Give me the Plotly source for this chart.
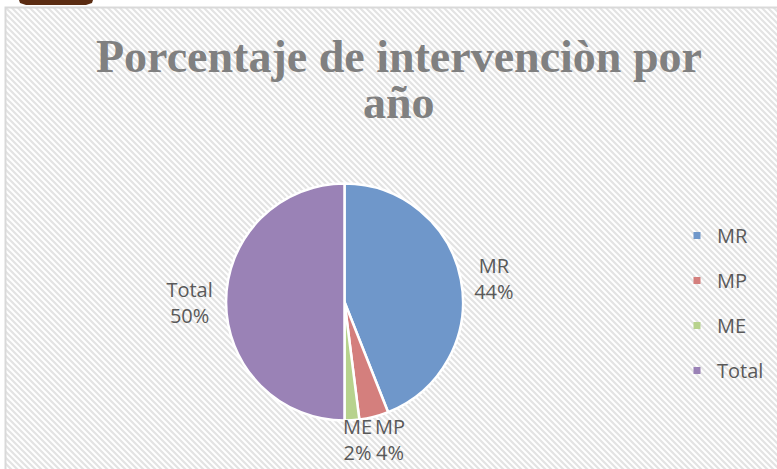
import base64
import plotly.graph_objects as go

# ---- data ----
labels = ["MR", "MP", "ME", "Total"]
values = [44, 4, 2, 50]
colors = ["#6f97ca", "#d47f7d", "#b7d28d", "#9a82b6"]
title_line1 = "Porcentaje de intervenciòn por"
title_line2 = "año"

W, H = 777, 469


def px(x):
    return x / W


def py(y):
    return 1 - y / H


# hatched background as an SVG pattern
bw, bh = W - 5, H - 7
svg = (
    f'<svg xmlns="http://www.w3.org/2000/svg" width="{bw}" height="{bh}">'
    '<defs><pattern id="p" width="6" height="6" patternUnits="userSpaceOnUse">'
    '<rect width="6" height="6" fill="white"/>'
    '<path d="M0,0 L6,6 M-3,3 L3,9 M3,-3 L9,3" stroke="#e3e3e3" stroke-width="2.2"/>'
    '</pattern></defs><rect width="100%" height="100%" fill="url(#p)"/></svg>'
)
src = "data:image/svg+xml;base64," + base64.b64encode(svg.encode()).decode()

cx, cy, r = 344.5, 302, 118.5
FONT = "Open Sans"
TXT = "#595959"

total = sum(values)
pct = [f"{round(v / total * 100)}%" for v in values]
inside_lab = [True, False, False, True]  # labels drawn by the pie itself

fig = go.Figure()
fig.add_trace(go.Pie(
    labels=labels, values=values, sort=False, direction="clockwise", rotation=0,
    marker=dict(colors=colors, line=dict(color="white", width=2.5)),
    texttemplate=["%{label}<br>%{percent:.0%}" if s else "" for s in inside_lab],
    textposition="outside",
    textfont=dict(family=FONT, size=20, color=TXT),
    showlegend=False, hoverinfo="label+percent",
    domain=dict(x=[px(cx - r), px(cx + r)], y=[py(cy + r), py(cy - r)]),
))

for lab, col in zip(labels, colors):
    fig.add_trace(go.Scatter(
        x=[None], y=[None], mode="markers", name=lab, legendgroup=lab,
        marker=dict(symbol="square", size=7, color=col),
    ))

annotations = [
    dict(text=title_line1, xref="paper", yref="paper", x=px(398.5), y=py(73),
         xanchor="center", yanchor="bottom", showarrow=False,
         font=dict(family="Liberation Serif", size=46, color="#808080", weight="bold"),
         yshift=-11),
    dict(text=title_line2, xref="paper", yref="paper", x=px(398.5), y=py(119),
         xanchor="center", yanchor="bottom", showarrow=False,
         font=dict(family="Liberation Serif", size=46, color="#808080", weight="bold"),
         yshift=-11),
]
# labels of the two thin slices, side by side under the pie
for i, xc in ((2, 357), (1, 390)):
    annotations.append(dict(
        text=f"{labels[i]}<br>{pct[i]}", xref="paper", yref="paper",
        x=px(xc), y=py(411), xanchor="center", yanchor="top", showarrow=False,
        align="center", font=dict(family=FONT, size=20, color=TXT)))

fig.update_layout(
    width=W, height=H, margin=dict(l=0, r=0, t=0, b=0, autoexpand=False),
    paper_bgcolor="white", plot_bgcolor="rgba(0,0,0,0)",
    xaxis=dict(visible=False), yaxis=dict(visible=False),
    legend=dict(
        x=px(677), y=py(216), xanchor="left", yanchor="top",
        font=dict(family=FONT, size=20, color=TXT),
        tracegroupgap=16, bgcolor="rgba(0,0,0,0)", itemwidth=30,
    ),
    images=[dict(source=src, xref="paper", yref="paper", x=px(5), y=py(7),
                 sizex=bw / W, sizey=bh / H, xanchor="left", yanchor="top",
                 sizing="stretch", layer="below")],
    shapes=[
        dict(type="rect", xref="paper", yref="paper", x0=px(5.5), x1=1.05,
             y0=-0.05, y1=py(7.5), line=dict(color="#d9d9d9", width=2), layer="above"),
        dict(type="path", xref="paper", yref="paper", fillcolor="#5b2c12",
             line=dict(width=0),
             path=(f"M{px(19)},{py(0)} L{px(93)},{py(0)} L{px(92)},{py(3)} "
                   f"L{px(86)},{py(5)} L{px(26)},{py(5)} L{px(20)},{py(3)} Z")),
    ],
    annotations=annotations,
)

fig.write_html("out.html", config={"displayModeBar": False},
               post_script="document.body.style.margin='0';")
